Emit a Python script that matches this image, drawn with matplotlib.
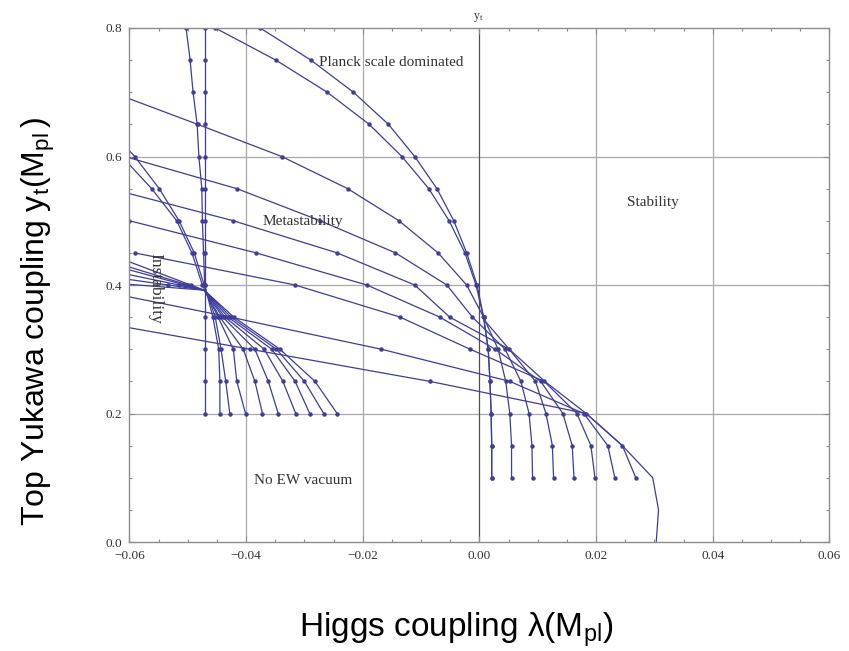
import numpy as np
import matplotlib.pyplot as plt
from matplotlib.ticker import MultipleLocator

plt.rcParams['mathtext.fontset'] = 'custom'
plt.rcParams['mathtext.rm'] = 'Liberation Sans'
plt.rcParams['mathtext.it'] = 'Liberation Sans:italic'

# y_t values where the flow lines are sampled (drawn as dots)
yt_steps = [0.10, 0.15, 0.20, 0.25, 0.30, 0.35, 0.40, 0.45, 0.50, 0.55,
            0.60, 0.65, 0.70, 0.75, 0.80]

# flows starting at y_t = 0.1 (lambda at each y_t step)
lam_r1a = [0.0021, 0.0021, 0.0020, 0.0018, 0.0015, 0.0007, -0.0004, -0.0022,
           -0.0044, -0.0073, -0.0111, -0.0156, -0.0216, -0.0289, -0.0376]
lam_r1b = [0.0021, 0.0021, 0.0020, 0.0018, 0.0015, 0.0007, -0.0006, -0.0025,
           -0.0052, -0.0087, -0.0133, -0.0189, -0.0261, -0.0349, -0.0453]
lam_r2 = [0.0055, 0.0055, 0.0052, 0.0045, 0.0032, 0.0007, -0.0022, -0.0071,
          -0.0138, -0.0226, -0.0339, -0.0483, -0.0630]
lam_r3 = [0.0091, 0.0090, 0.0085, 0.0071, 0.0044, -0.0012, -0.0056, -0.0144,
          -0.0273, -0.0416, -0.0608]
lam_r4 = [0.0127, 0.0125, 0.0114, 0.0096, 0.0051, -0.0051, -0.0111, -0.0244,
          -0.0422, -0.0633]
lam_r5 = [0.0162, 0.0159, 0.0143, 0.0105, 0.0027, -0.0068, -0.0193, -0.0383,
          -0.0600]
lam_r6 = [0.0198, 0.0191, 0.0167, 0.0111, -0.0016, -0.0136, -0.0316, -0.0591]
lam_r7 = [0.0232, 0.0220, 0.0179, 0.0052, -0.0168, -0.0427, -0.0702]
lam_r8 = [0.0268, 0.0245, 0.0183, -0.0085, -0.0393, -0.0702]

# boundary curve rising from the lambda axis (no sample dots)
env_yt = [0.0, 0.05, 0.10, 0.15, 0.20, 0.25, 0.30, 0.35]
env_lam = [0.0303, 0.0307, 0.0297, 0.0245, 0.0183, 0.0112, 0.0051, 0.0004]

# flows starting at y_t = 0.2, steep branch
lam_l0 = [-0.0471, -0.0471, -0.0471, -0.0471, -0.0471, -0.0471, -0.0471,
          -0.0471, -0.0471, -0.0471, -0.0471, -0.0471, -0.0471]
lam_l1 = [-0.0445, -0.0445, -0.0447, -0.0457, -0.0471, -0.0473, -0.0475,
          -0.0476, -0.0481, -0.0484, -0.0491, -0.0496, -0.0503]
lam_l2 = [-0.0428, -0.0435, -0.0443, -0.0453, -0.0472, -0.0489, -0.0515,
          -0.0549, -0.0591, -0.0642]
lam_l3 = [-0.0401, -0.0416, -0.0422, -0.0448, -0.0475, -0.0493, -0.0519,
          -0.0562, -0.0613]

# flows starting at y_t = 0.2, shallow branch through the crossing point
yt_l4 = [0.20, 0.25, 0.30, 0.35, 0.392, 0.40, 0.436]
lam_l4 = [-0.0372, -0.0385, -0.0405, -0.0445, -0.0472, -0.0495, -0.0600]
yt_l5 = [0.20, 0.25, 0.30, 0.35, 0.392, 0.40, 0.428]
lam_l5 = [-0.0345, -0.0362, -0.0385, -0.0440, -0.0472, -0.0500, -0.0600]
yt_l6 = [0.20, 0.25, 0.30, 0.35, 0.392, 0.40, 0.4235]
lam_l6 = [-0.0315, -0.0337, -0.0369, -0.0436, -0.0472, -0.0505, -0.0600]
yt_l7 = [0.20, 0.25, 0.30, 0.35, 0.392, 0.40, 0.416]
lam_l7 = [-0.0291, -0.0316, -0.0356, -0.0431, -0.0472, -0.0515, -0.0600]
yt_l8 = [0.20, 0.25, 0.30, 0.35, 0.392, 0.40, 0.4085]
lam_l8 = [-0.0267, -0.0300, -0.0348, -0.0426, -0.0472, -0.0534, -0.0600]
yt_l9 = [0.20, 0.25, 0.30, 0.35, 0.392, 0.401]
lam_l9 = [-0.0244, -0.0282, -0.0342, -0.0421, -0.0472, -0.0600]

flows = [(lam_r1a, yt_steps[:len(lam_r1a)]), (lam_r1b, yt_steps[:len(lam_r1b)]),
         (lam_r2, yt_steps[:len(lam_r2)]), (lam_r3, yt_steps[:len(lam_r3)]),
         (lam_r4, yt_steps[:len(lam_r4)]), (lam_r5, yt_steps[:len(lam_r5)]),
         (lam_r6, yt_steps[:len(lam_r6)]), (lam_r7, yt_steps[:len(lam_r7)]),
         (lam_r8, yt_steps[:len(lam_r8)]),
         (lam_l0, yt_steps[2:2 + len(lam_l0)]), (lam_l1, yt_steps[2:2 + len(lam_l1)]),
         (lam_l2, yt_steps[2:2 + len(lam_l2)]), (lam_l3, yt_steps[2:2 + len(lam_l3)]),
         (lam_l4, yt_l4), (lam_l5, yt_l5), (lam_l6, yt_l6),
         (lam_l7, yt_l7), (lam_l8, yt_l8), (lam_l9, yt_l9)]

xticks = [-0.06, -0.04, -0.02, 0.00, 0.02, 0.04, 0.06]
xticklabels = ['\u22120.06', '\u22120.04', '\u22120.02', '0.00', '0.02', '0.04', '0.06']
yticks = [0.0, 0.2, 0.4, 0.6, 0.8]
yticklabels = ['0.0', '0.2', '0.4', '0.6', '0.8']

line_col = '#3d3d9e'
frame_col = '#8c8c8c'

fig = plt.figure(figsize=(8.49, 6.51), dpi=100)
ax = fig.add_axes([0.1525, 0.1674, 0.8245, 0.7896])

for lam, yt in flows:
    yt = np.asarray(yt)
    # dots only on the regular y_t samples
    on_step = np.flatnonzero(np.isclose(yt * 20, np.round(yt * 20)))
    ax.plot(lam, yt, color=line_col, lw=0.9, marker='o', ms=2.2,
            mec=line_col, mfc=line_col, markevery=list(on_step))
ax.plot(env_lam, env_yt, color=line_col, lw=0.9)

ax.set_xlim(-0.06, 0.06)
ax.set_ylim(0.0, 0.8)

# grid and the lambda = 0 axis
for gx in [-0.04, -0.02, 0.02, 0.04]:
    ax.axvline(gx, color='#a8a8a8', lw=0.9, zorder=0)
for gy in [0.2, 0.4, 0.6]:
    ax.axhline(gy, color='#a8a8a8', lw=0.9, zorder=0)
ax.axvline(0.0, color='#505050', lw=0.9, zorder=0)

for sp in ax.spines.values():
    sp.set_color(frame_col)
    sp.set_linewidth(1.0)

ax.set_xticks(xticks)
ax.set_xticklabels(xticklabels)
ax.set_yticks(yticks)
ax.set_yticklabels(yticklabels)
ax.xaxis.set_minor_locator(MultipleLocator(0.005))
ax.yaxis.set_minor_locator(MultipleLocator(0.05))
ax.tick_params(which='both', direction='in', top=True, right=True,
               color=frame_col, width=0.8)
ax.tick_params(which='major', length=4)
ax.tick_params(which='minor', length=2.5)
ax.tick_params(axis='both', labelsize=9.5, labelcolor='#333333')
ax.tick_params(axis='x', pad=5.5)
ax.tick_params(axis='y', pad=5)
for lbl in ax.get_xticklabels() + ax.get_yticklabels():
    lbl.set_family('Liberation Serif')

serif = dict(family='Liberation Serif', color='#333333', fontsize=11)
ax.text(-0.01505, 0.746, 'Planck scale dominated', ha='center', va='center', **serif)
ax.text(-0.0303, 0.499, 'Metastability', ha='center', va='center', **serif)
ax.text(0.0297, 0.528, 'Stability', ha='center', va='center', **serif)
ax.text(-0.0302, 0.095, 'No EW vacuum', ha='center', va='center', **serif)
ax.text(-0.0556, 0.395, 'Instability', ha='center', va='center', rotation=-90,
        family='Liberation Serif', color='#333333', fontsize=12.5)
ax.text(0.0, 0.818, 'y', ha='right', va='center', family='Liberation Serif',
        color='#333333', fontsize=8.5)
ax.text(0.0, 0.815, 't', ha='left', va='center', family='Liberation Serif',
        color='#333333', fontsize=6)

fig.text(0.537, 0.032, r'Higgs coupling λ$\mathregular{(M_{pl})}$', ha='center',
         va='center', family='Liberation Sans', fontsize=24)
fig.text(0.045, 0.506, r'Top Yukawa coupling $\mathregular{y_t(M_{pl}\,)}$', ha='center',
         va='center', rotation=90, family='Liberation Sans', fontsize=23)

plt.savefig('out.png', dpi=100, facecolor='white')
